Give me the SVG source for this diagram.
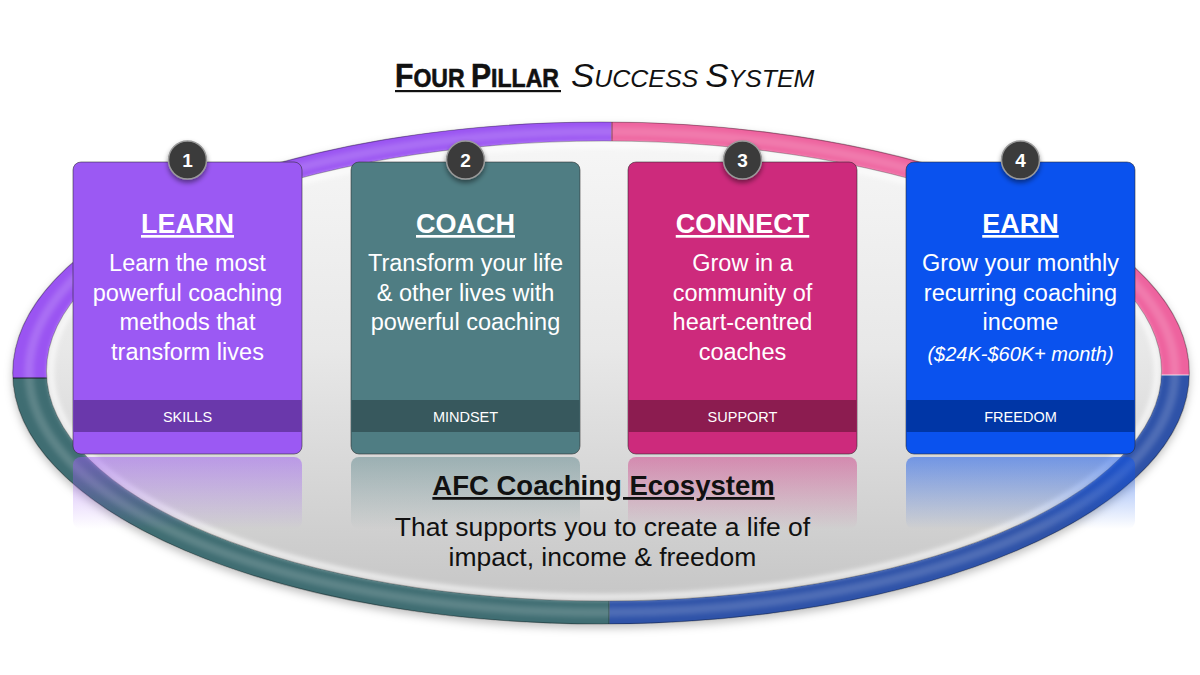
<svg xmlns="http://www.w3.org/2000/svg" width="1200" height="675" viewBox="0 0 1200 675">
<style>
.title{font-family:"Liberation Sans",Arial,sans-serif;fill:#111}
.ct{font-family:"Liberation Sans",Arial,sans-serif;font-weight:bold;font-size:27px;fill:#fff;text-anchor:middle;text-decoration:underline}
.cb{font-family:"Liberation Sans",Arial,sans-serif;font-size:23.5px;fill:#fff;text-anchor:middle}
.ci{font-family:"Liberation Sans",Arial,sans-serif;font-size:20px;font-style:italic;fill:#fff;text-anchor:middle}
.bt{font-family:"Liberation Sans",Arial,sans-serif;font-size:14.5px;fill:#fff;text-anchor:middle}
.num{font-family:"Liberation Sans",Arial,sans-serif;font-weight:bold;font-size:19px;fill:#fff;text-anchor:middle}
.badge{fill:#3a3a3a;stroke:#9a9a9a;stroke-width:1.5}
.card{stroke:#2a2a2a;stroke-opacity:.55;stroke-width:1}
.eco{font-family:"Liberation Sans",Arial,sans-serif;fill:#111;text-anchor:middle}
</style>
<defs>
<clipPath id="ringClip">
<path clip-rule="evenodd" d="M12.7 373 A588.3 251 0 1 0 1189.3 373 A588.3 251 0 1 0 12.7 373 Z M46.5 371 A557.5 230 0 1 0 1161.5 371 A557.5 230 0 1 0 46.5 371 Z"/>
</clipPath>
<linearGradient id="innerG" x1="0" y1="0" x2="0" y2="1">
<stop offset="0" stop-color="#f6f6f6"/>
<stop offset="0.45" stop-color="#e8e8e8"/>
<stop offset="1" stop-color="#c6c6c6"/>
</linearGradient>
<linearGradient id="refP" x1="0" y1="0" x2="0" y2="1"><stop offset="0" stop-color="#9b59f3" stop-opacity=".5"/><stop offset="1" stop-color="#9b59f3" stop-opacity="0"/></linearGradient>
<linearGradient id="refT" x1="0" y1="0" x2="0" y2="1"><stop offset="0" stop-color="#4f7d83" stop-opacity=".45"/><stop offset="1" stop-color="#4f7d83" stop-opacity="0"/></linearGradient>
<linearGradient id="refK" x1="0" y1="0" x2="0" y2="1"><stop offset="0" stop-color="#cd2a7c" stop-opacity=".45"/><stop offset="1" stop-color="#cd2a7c" stop-opacity="0"/></linearGradient>
<linearGradient id="refB" x1="0" y1="0" x2="0" y2="1"><stop offset="0" stop-color="#0a52ee" stop-opacity=".5"/><stop offset="1" stop-color="#0a52ee" stop-opacity="0"/></linearGradient>
<filter id="shadow" x="-10%" y="-10%" width="120%" height="130%">
<feDropShadow dx="0" dy="4" stdDeviation="4" flood-color="#000" flood-opacity="0.25"/>
</filter>
<filter id="bshadow" x="-50%" y="-50%" width="200%" height="200%">
<feDropShadow dx="0" dy="3" stdDeviation="2.5" flood-color="#000" flood-opacity="0.45"/>
</filter>
<filter id="blur3"><feGaussianBlur stdDeviation="2.5"/></filter>
</defs>

<rect width="1200" height="675" fill="#ffffff"/>

<!-- Title -->
<g id="title">
<text class="title" transform="translate(395,87) scale(0.9,1)" x="0" y="0" font-weight="bold" stroke="#111" stroke-width="0.6"><tspan font-size="33.5">F</tspan><tspan font-size="25.6">OUR </tspan><tspan font-size="33.5">P</tspan><tspan font-size="25.6">ILLAR</tspan></text>
<rect x="395" y="90" width="166" height="2.2" fill="#111"/>
<text class="title" transform="translate(571,87) scale(1.04,1)" x="0" y="0" font-style="italic"><tspan font-size="33.5">S</tspan><tspan font-size="24">UCCESS </tspan><tspan font-size="33.5">S</tspan><tspan font-size="24">YSTEM</tspan></text>
</g>

<!-- Ecosystem ellipse -->
<g id="ecosystem">
<ellipse cx="601" cy="373" rx="588.3" ry="251" fill="#bdbdbd" filter="url(#shadow)"/>
<g clip-path="url(#ringClip)">
<polygon points="0,0 612,0 610.5,376.5 0,378" fill="#9a54f2"/>
<polygon points="612,0 1200,0 1200,375 610.5,376.5" fill="#ee629e"/>
<polygon points="1200,375 1200,675 609,675 610.5,376.5" fill="#2e52a8"/>
<polygon points="0,378 610.5,376.5 609,675 0,675" fill="#3f6d72"/>
<ellipse cx="602" cy="372" rx="573" ry="240.5" fill="none" stroke="#ffffff" stroke-opacity="0.16" stroke-width="9" filter="url(#blur3)"/>
<line x1="612" y1="110" x2="612" y2="150" stroke="#000" stroke-opacity=".3" stroke-width="1.5"/>
<line x1="609" y1="595" x2="609" y2="630" stroke="#000" stroke-opacity=".25" stroke-width="1.5"/>
<line x1="0" y1="378" x2="60" y2="378" stroke="#000" stroke-opacity=".5" stroke-width="1.5"/>
<line x1="1150" y1="375" x2="1200" y2="375" stroke="#ffffff" stroke-opacity=".5" stroke-width="1.5"/>
</g>
<ellipse cx="601" cy="373" rx="588.3" ry="251" fill="none" stroke="#000" stroke-opacity=".3" stroke-width="1.2"/>
<ellipse cx="604" cy="371" rx="557.5" ry="230" fill="url(#innerG)"/>
<ellipse cx="604" cy="371" rx="553" ry="226" fill="none" stroke="#ffffff" stroke-opacity=".75" stroke-width="5" filter="url(#blur3)"/>
<ellipse cx="604" cy="371" rx="557.5" ry="230" fill="none" stroke="#000" stroke-opacity=".25" stroke-width="1"/>
</g>

<!-- Reflections -->
<g id="reflections">
<rect x="73" y="457" width="229" height="72" rx="8" fill="url(#refP)"/>
<rect x="351" y="457" width="229" height="72" rx="8" fill="url(#refT)"/>
<rect x="628" y="457" width="229" height="72" rx="8" fill="url(#refK)"/>
<rect x="906" y="457" width="229" height="72" rx="8" fill="url(#refB)"/>
</g>

<!-- Card 1 -->
<g id="card-learn">
<rect class="card" x="73" y="162" width="229" height="292" rx="8" fill="#9b59f3"/>
<rect x="73.5" y="400" width="228" height="32" fill="#6a38ab"/>
<text class="bt" x="187.5" y="422">SKILLS</text>
<text class="ct" x="187.5" y="233">LEARN</text>
<text class="cb" x="187.5" y="271">Learn the most</text>
<text class="cb" x="187.5" y="301">powerful coaching</text>
<text class="cb" x="187.5" y="330">methods that</text>
<text class="cb" x="187.5" y="360">transform lives</text>
<circle class="badge" cx="187.5" cy="160" r="19" filter="url(#bshadow)"/>
<text class="num" x="187.5" y="167">1</text>
</g>

<!-- Card 2 -->
<g id="card-coach">
<rect class="card" x="351" y="162" width="229" height="292" rx="8" fill="#4f7d83"/>
<rect x="351.5" y="400" width="228" height="32" fill="#37585d"/>
<text class="bt" x="465.5" y="422">MINDSET</text>
<text class="ct" x="465.5" y="233">COACH</text>
<text class="cb" x="465.5" y="271">Transform your life</text>
<text class="cb" x="465.5" y="301">&amp; other lives with</text>
<text class="cb" x="465.5" y="330">powerful coaching</text>
<circle class="badge" cx="465.5" cy="160" r="19" filter="url(#bshadow)"/>
<text class="num" x="465.5" y="167">2</text>
</g>

<!-- Card 3 -->
<g id="card-connect">
<rect class="card" x="628" y="162" width="229" height="292" rx="8" fill="#cd2a7c"/>
<rect x="628.5" y="400" width="228" height="32" fill="#8c1c50"/>
<text class="bt" x="742.5" y="422">SUPPORT</text>
<text class="ct" x="742.5" y="233">CONNECT</text>
<text class="cb" x="742.5" y="271">Grow in a</text>
<text class="cb" x="742.5" y="301">community of</text>
<text class="cb" x="742.5" y="330">heart-centred</text>
<text class="cb" x="742.5" y="360">coaches</text>
<circle class="badge" cx="742.5" cy="160" r="19" filter="url(#bshadow)"/>
<text class="num" x="742.5" y="167">3</text>
</g>

<!-- Card 4 -->
<g id="card-earn">
<rect class="card" x="906" y="162" width="229" height="292" rx="8" fill="#0a52ee"/>
<rect x="906.5" y="400" width="228" height="32" fill="#0036a6"/>
<text class="bt" x="1020.5" y="422">FREEDOM</text>
<text class="ct" x="1020.5" y="233">EARN</text>
<text class="cb" x="1020.5" y="271">Grow your monthly</text>
<text class="cb" x="1020.5" y="301">recurring coaching</text>
<text class="cb" x="1020.5" y="330">income</text>
<text class="ci" x="1020.5" y="361">($24K-$60K+ month)</text>
<circle class="badge" cx="1020.5" cy="160" r="19" filter="url(#bshadow)"/>
<text class="num" x="1020.5" y="167">4</text>
</g>

<!-- Ecosystem caption -->
<g id="caption">
<text class="eco" x="603.5" y="495" font-size="27.5" font-weight="bold" text-decoration="underline">AFC Coaching Ecosystem</text>
<text class="eco" x="602.5" y="536" font-size="26.5">That supports you to create a life of</text>
<text class="eco" x="602.5" y="566" font-size="26.5">impact, income &amp; freedom</text>
</g>

<g id="connectors"></g>
</svg>
